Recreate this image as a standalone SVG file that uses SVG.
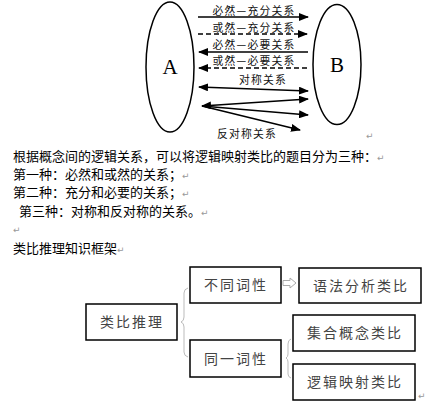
<svg xmlns="http://www.w3.org/2000/svg" width="433" height="411" viewBox="0 0 433 411">
<defs>
<marker id="ah" markerWidth="10" markerHeight="8" refX="9" refY="4" orient="auto" markerUnits="userSpaceOnUse">
<path d="M0,0 L10,4 L0,8 Z" fill="#000"/>
</marker>
<marker id="ahs" markerWidth="10" markerHeight="8" refX="1" refY="4" orient="auto" markerUnits="userSpaceOnUse">
<path d="M10,0 L0,4 L10,8 Z" fill="#000"/>
</marker>
<style>
.cjk{font-family:"Noto Sans CJK SC","Noto Sans",sans-serif;}
.lbl{font-size:10.8px;letter-spacing:1.2px;fill:#111;text-anchor:middle;}
.para{font-size:13px;fill:#000;}
.pm{font-family:"DejaVu Sans",sans-serif;font-size:9px;fill:#999;}
.big{font-family:"Liberation Serif",serif;font-size:21px;fill:#000;text-anchor:middle;}
.ln{stroke:#000;stroke-width:1.6;fill:none;}
.dash{stroke-dasharray:5,3;}
.box{fill:#fff;stroke:#000;stroke-width:1.5;}
.bt{font-size:14px;letter-spacing:2px;fill:#444;text-anchor:middle;}
.brace{fill:none;stroke:#bbb;stroke-width:1;}
</style>
</defs>

<g id="A">
<ellipse cx="170" cy="67" rx="24" ry="65" fill="none" stroke="#000" stroke-width="1.5"/>
<text class="big" x="170" y="74">A</text>
</g>
<g id="B">
<ellipse cx="337" cy="64.5" rx="24" ry="60" fill="none" stroke="#000" stroke-width="1.5"/>
<text class="big" x="337" y="72">B</text>
</g>

<g id="connectors">
<line class="ln" x1="198" y1="17" x2="308" y2="17" marker-end="url(#ah)"/>
<line class="ln dash" x1="198" y1="34" x2="307" y2="34" marker-end="url(#ah)"/>
<line class="ln" x1="308" y1="52" x2="199" y2="52" marker-end="url(#ah)"/>
<line class="ln dash" x1="307" y1="68" x2="199" y2="68" marker-end="url(#ah)"/>
<line class="ln" x1="199" y1="87" x2="308" y2="91" marker-start="url(#ahs)" marker-end="url(#ah)"/>
<line class="ln" x1="202" y1="106" x2="308" y2="99" marker-start="url(#ahs)" marker-end="url(#ah)"/>
<line class="ln" x1="202" y1="106" x2="308" y2="115" marker-end="url(#ah)"/>
<line class="ln" x1="202" y1="106" x2="300" y2="130" marker-end="url(#ah)"/>
<text class="cjk lbl" x="254" y="15">必然—充分关系</text>
<text class="cjk lbl" x="254" y="32">或然—充分关系</text>
<text class="cjk lbl" x="254" y="49">必然—必要关系</text>
<text class="cjk lbl" x="254" y="65">或然—必要关系</text>
<text class="cjk lbl" x="263" y="84">对称关系</text>
<text class="cjk lbl" x="247" y="138">反对称关系</text>
<text class="pm" x="366" y="139">↵</text>
</g>

<g id="text">
<text class="cjk para" x="13" y="161">根据概念间的逻辑关系，可以将逻辑映射类比的题目分为三种：<tspan class="pm">↵</tspan></text>
<text class="cjk para" x="13" y="179">第一种：必然和或然的关系；<tspan class="pm">↵</tspan></text>
<text class="cjk para" x="13" y="197">第二种：充分和必要的关系；<tspan class="pm">↵</tspan></text>
<text class="cjk para" x="19" y="216">第三种：对称和反对称的关系。<tspan class="pm">↵</tspan></text>
<text class="pm" x="13" y="233">↵</text>
<text class="cjk para" x="13" y="253">类比推理知识框架<tspan class="pm">↵</tspan></text>
</g>

<g id="n1">
<rect class="box" x="86" y="304" width="91" height="36"/>
<text class="cjk bt" x="132" y="327">类比推理</text>
</g>
<g id="n2">
<rect class="box" x="190" y="267" width="91" height="36"/>
<text class="cjk bt" x="236" y="290">不同词性</text>
</g>
<g id="n3">
<rect class="box" x="190" y="340" width="91" height="37"/>
<text class="cjk bt" x="236" y="364">同一词性</text>
</g>
<g id="n4">
<rect class="box" x="299" y="268" width="122" height="35"/>
<text class="cjk bt" x="361" y="291">语法分析类比</text>
</g>
<g id="n5">
<rect class="box" x="293" y="315" width="122" height="36"/>
<text class="cjk bt" x="355" y="338">集合概念类比</text>
</g>
<g id="n6">
<rect class="box" x="293" y="364" width="122" height="36"/>
<text class="cjk bt" x="355" y="387">逻辑映射类比</text>
</g>

<g id="connectors2">
<path class="brace" d="M188,288 Q184,289 184,293 L184,317 Q184,321 181,322 Q184,323 184,327 L184,352 Q184,356 188,357"/>
<path class="brace" d="M291,339 Q288,340 288,344 L288,354 Q288,357 286,358 Q288,359 288,362 L288,374 Q288,377 291,378"/>
<path d="M283,280.5 L290,280.5 L290,278 L296,283 L290,288 L290,285.5 L283,285.5 Z" fill="#fff" stroke="#aaa" stroke-width="1"/>
<text class="pm" x="418" y="399">↵</text>
</g>
</svg>
